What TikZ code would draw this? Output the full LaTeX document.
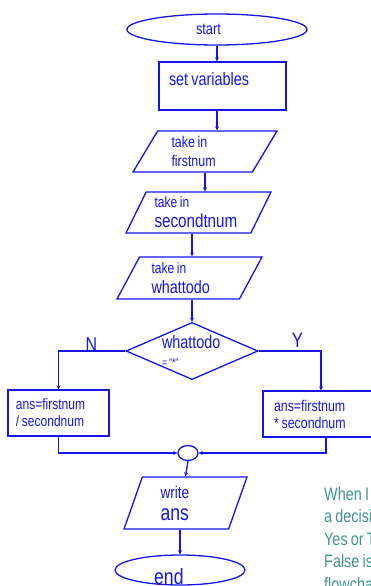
\documentclass[tikz,border=0pt]{standalone}
\usepackage{fontspec}
\setmainfont[FakeStretch=0.8, WordSpace=0.8]{Liberation Sans}
\usepackage{xcolor}
\usetikzlibrary{shapes.geometric,arrows.meta}
\definecolor{flowblue}{RGB}{20,20,235}
\definecolor{notegreen}{RGB}{64,150,140}

\begin{document}
\begin{tikzpicture}[
        x=1pt, y=-1pt,
        >={Stealth[length=4pt,width=4pt]},
        every node/.style={text=flowblue, inner sep=0pt, align=flush left},
        line/.style={draw=flowblue, line width=1.3pt},
        term/.style={line, ellipse},
        proc/.style={line, rectangle},
        io/.style={line, trapezium, trapezium stretches body},
        decision/.style={line, diamond, aspect=2.3}
    ]
    \useasboundingbox (0,0) rectangle (371,586);

    % Start and setup
    \node[term, minimum width=180pt, minimum height=31pt, text width=42pt, font=\fontsize{16}{19}\selectfont] (start) at (217,29.5) {start};
    \node[proc, minimum width=127pt, minimum height=48pt, text width=107pt, text depth=14pt, font=\fontsize{18}{22}\selectfont] (setvar) at (222.5,86) {set variables};

    % Inputs
    \node[io, trapezium left angle=51, trapezium right angle=129, minimum width=144pt, minimum height=41pt, text width=67pt, font=\fontsize{15.5}{19}\selectfont] (in1) at (205,151.5) {take in\\firstnum};
    \node[io, trapezium left angle=57, trapezium right angle=123, minimum width=145pt, minimum height=41pt, text width=88pt, font=\fontsize{19}{20}\selectfont] (in2) at (198.5,212.5) {{\fontsize{15}{20}\selectfont take in}\\secondtnum};
    \node[io, trapezium left angle=54, trapezium right angle=126, minimum width=145pt, minimum height=42pt, text width=76pt, font=\fontsize{18}{20}\selectfont] (in3) at (189.5,278) {{\fontsize{15}{20}\selectfont take in}\\whattodo};

    % Decision and branches
    \node[decision, minimum width=132pt, minimum height=57pt, text width=60pt, font=\fontsize{18}{18}\selectfont] (dec) at (192,351) {whattodo\\{\fontsize{11}{18}\selectfont = "*"}};
    \node[font=\fontsize{20}{20}\selectfont] (lblN) at (91.5,345) {N};
    \node[font=\fontsize{21}{21}\selectfont] (lblY) at (297.5,340.5) {Y};
    \node[proc, minimum width=101pt, minimum height=46pt, text width=85pt, font=\fontsize{15}{17}\selectfont] (lbox) at (58.5,413) {ans=firstnum\\/ secondnum};
    \node[proc, minimum width=116pt, minimum height=46pt, text width=94pt, font=\fontsize{15.5}{17}\selectfont] (rbox) at (321,414) {ans=firstnum\\{*} secondnum};

    % Join, output and end
    \node[line, ellipse, minimum width=20pt, minimum height=15pt] (join) at (188,453) {};
    \node[io, trapezium left angle=62, trapezium right angle=118, minimum width=123pt, minimum height=52pt, text width=50pt, font=\fontsize{22}{22}\selectfont] (out) at (185.5,503) {{\fontsize{17}{22}\selectfont write}\\ans};
    \node[term, minimum width=130pt, minimum height=30pt] (stop) at (180,570) {};
    \node[anchor=base west, font=\fontsize{22}{22}\selectfont] (stoplbl) at (154,584) {end};

    % Note
    \node[anchor=north west, text=notegreen, font=\fontsize{18}{22.5}\selectfont] (note) at (324,487) {When I\\a decisi\\Yes or T\\False is\\flowcha};

    % Arrows
    \draw[line, ->] (start.south) -- (start.south |- setvar.north);
    \draw[line, ->] (start.south |- setvar.south) -- (start.south |- in1.north);
    \draw[line, ->] (in1.south) -- (in1.south |- in2.north);
    \draw[line, ->] (in2.south -| dec) -- (in3.north -| dec);
    \draw[line, ->] (in3.south -| dec) -- (dec.north);
    \draw[line, ->] (dec.west) -| (lbox.north);
    \draw[line, ->] (dec.east) -| (rbox.north);
    \draw[line, ->] (lbox.south) |- (join.west);
    \draw[line, ->] ([xshift=5pt]rbox.south) |- (join.east);
    \draw[line, ->] (join.south) -- (out.north);
    \draw[line, ->] (out.south -| stop) -- (stop.north);

    \end{tikzpicture}
\end{document}
